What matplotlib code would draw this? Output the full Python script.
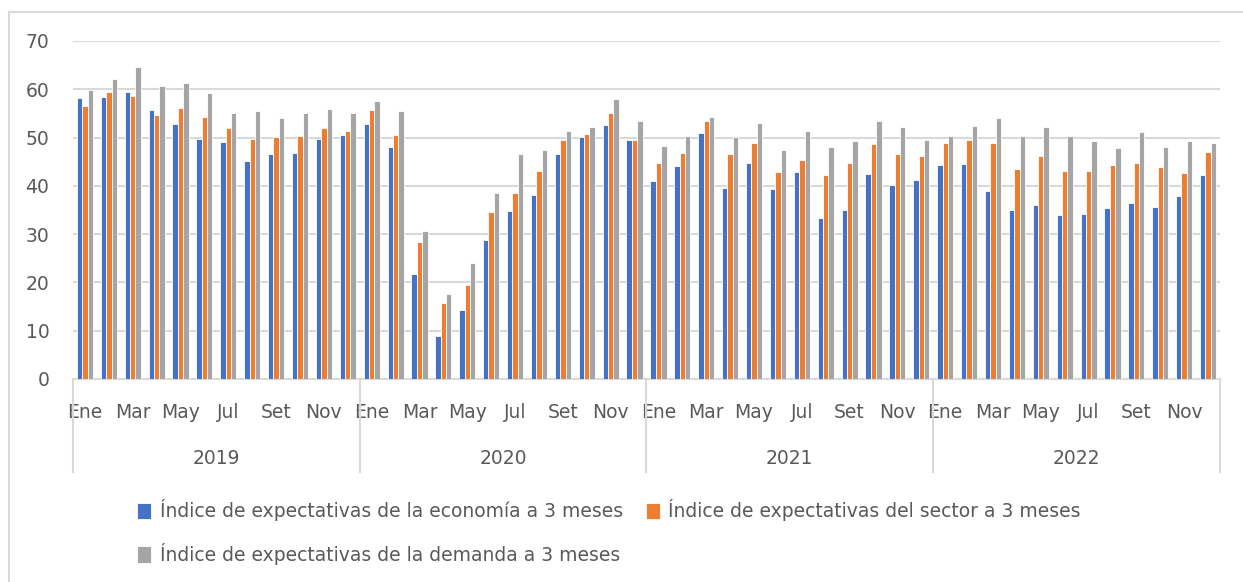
import matplotlib
matplotlib.use("Agg")
import matplotlib.pyplot as plt
import matplotlib.transforms as mtransforms
from matplotlib.lines import Line2D
import numpy as np

years = ["2019", "2020", "2021", "2022"]
months = ["Ene", "Feb", "Mar", "Abr", "May", "Jun", "Jul", "Ago", "Set", "Oct", "Nov", "Dic"]

economia = [
    58.1, 58.3, 59.4, 55.8, 52.8, 49.8, 49.0, 45.1, 46.7, 46.9, 49.7, 50.6,
    52.8, 48.1, 21.7, 9.0, 14.2, 28.7, 34.8, 38.1, 46.5, 50.1, 52.7, 49.4,
    41.0, 44.1, 51.0, 39.6, 44.8, 39.4, 42.8, 33.4, 34.9, 42.5, 40.1, 41.2,
    44.3, 44.5, 38.9, 34.9, 36.0, 33.9, 34.2, 35.5, 36.4, 35.6, 37.9, 42.3,
]
sector = [
    56.5, 59.4, 58.7, 54.7, 56.1, 54.3, 51.9, 49.8, 50.1, 50.4, 51.9, 51.4,
    55.7, 50.6, 28.3, 15.7, 19.4, 34.6, 38.6, 43.1, 49.5, 50.8, 55.0, 49.4,
    44.8, 46.9, 53.4, 46.6, 48.8, 42.9, 45.3, 42.3, 44.7, 48.6, 46.7, 46.1,
    48.8, 49.4, 48.8, 43.4, 46.1, 43.1, 43.1, 44.3, 44.8, 43.9, 42.7, 47.0,
]
demanda = [
    59.8, 62.1, 64.6, 60.7, 61.2, 59.2, 55.0, 55.6, 54.1, 55.0, 55.9, 55.0,
    57.6, 55.4, 30.6, 17.7, 24.0, 38.5, 46.6, 47.5, 51.3, 52.1, 58.0, 53.5,
    48.3, 50.4, 54.3, 50.1, 53.1, 47.4, 51.3, 48.0, 49.3, 53.5, 52.2, 49.5,
    50.4, 52.5, 54.1, 50.3, 52.1, 50.4, 49.2, 47.8, 51.2, 48.0, 49.2, 48.8,
]

labels = [
    "Índice de expectativas de la economía a 3 meses",
    "Índice de expectativas del sector a 3 meses",
    "Índice de expectativas de la demanda a 3 meses",
]
colors = ["#4472C4", "#ED7D31", "#A5A5A5"]
grid_color = "#d9d9d9"
text_color = "#595959"

plt.rcParams["font.family"] = ["DejaVu Sans"]

fig = plt.figure(figsize=(12.43, 5.82), dpi=100)
ax = fig.add_axes([73 / 1243, 1 - 379 / 582, (1220 - 73) / 1243, (379 - 41) / 582])

x = np.arange(len(economia))
w = 0.225
bars = []
for i, (vals, col, lab) in enumerate(zip([economia, sector, demanda], colors, labels)):
    b = ax.bar(x + (i - 1) * w, vals, width=w, color=col, edgecolor="white", linewidth=0.6, label=lab, zorder=3)
    bars.append(b)

ax.set_xlim(-0.5, len(x) - 0.5)
ax.set_ylim(0, 70)
ax.set_yticks(range(0, 71, 10))
ax.grid(axis="y", color=grid_color, linewidth=1.5, zorder=0)
for s in ["top", "right", "left"]:
    ax.spines[s].set_visible(False)
ax.spines["bottom"].set_color(grid_color)
ax.spines["bottom"].set_linewidth(1.5)

tick_pos = [i for i in range(len(x)) if i % 2 == 0]
tick_lab = [months[i % 12] for i in tick_pos]
ax.set_xticks(tick_pos, tick_lab)
ax.tick_params(axis="x", length=0, pad=17, labelsize=13.5, labelcolor=text_color)
ax.tick_params(axis="y", length=0, pad=17, labelsize=13.5, labelcolor=text_color)

trans = mtransforms.blended_transform_factory(ax.transData, ax.transAxes)
for k, yr in enumerate(years):
    ax.text(k * 12 + 5.5, -0.234, yr, transform=trans, ha="center", va="center",
            fontsize=13.5, color=text_color)
for k in range(len(years) + 1):
    ax.plot([k * 12 - 0.5, k * 12 - 0.5], [0, -0.275], transform=trans, color=grid_color,
            linewidth=1.5, clip_on=False)

handles = [bars[0], bars[2], bars[1]]
hl = [labels[0], labels[2], labels[1]]
fig.legend(handles, hl, ncol=2, loc="upper left", bbox_to_anchor=(128 / 1243, 1 - 490 / 582),
           frameon=False, fontsize=13.5, handlelength=0.75, handleheight=0.95,
           handletextpad=0.45, columnspacing=1.2, labelspacing=1.15, borderpad=0,
           labelcolor=text_color)

fig.add_artist(Line2D([9 / 1243, 9 / 1243], [0, 1 - 12 / 582], transform=fig.transFigure,
                      color=grid_color, linewidth=1.5))
fig.add_artist(Line2D([9 / 1243, 1], [1 - 12 / 582, 1 - 12 / 582], transform=fig.transFigure,
                      color=grid_color, linewidth=1.5))

fig.savefig("out.png", dpi=100)
